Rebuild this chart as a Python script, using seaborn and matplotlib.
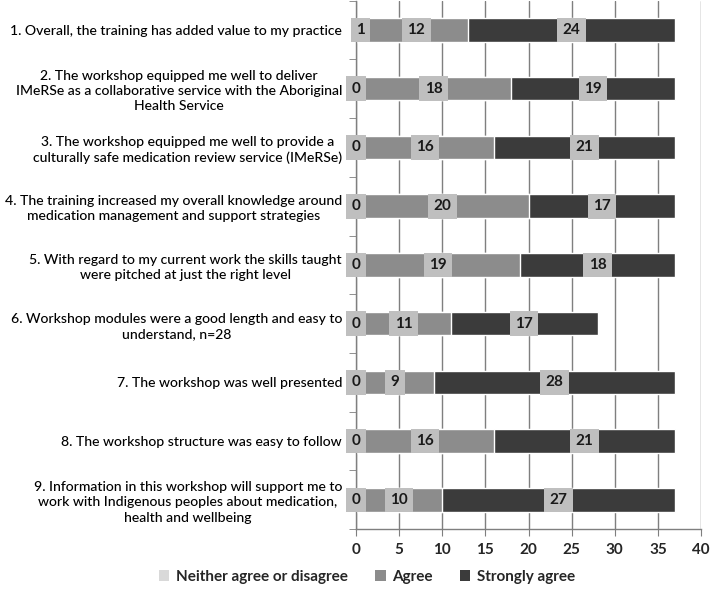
import seaborn as sns
import pandas as pd
import matplotlib.pyplot as plt
from matplotlib.patches import Patch

# survey statements (wrapped as in the original)
questions = [
    '1. Overall, the training has added value to my practice',
    '2. The workshop equipped me well to deliver\nIMeRSe as a collaborative service with the Aboriginal\nHealth Service',
    '3. The workshop equipped me well to provide a\nculturally safe medication review service (IMeRSe)',
    '4. The training increased my overall knowledge around\nmedication management and support strategies',
    '5. With regard to my current work the skills taught\nwere pitched at just the right level',
    '6. Workshop modules were a good length and easy to\nunderstand, n=28',
    '7. The workshop was well presented',
    '8. The workshop structure was easy to follow',
    '9. Information in this workshop will support me to\nwork with Indigenous peoples about medication,\nhealth and wellbeing',
]
neither = [1, 0, 0, 0, 0, 0, 0, 0, 0]
agree = [12, 18, 16, 20, 19, 11, 9, 16, 10]
strongly = [24, 19, 21, 17, 18, 17, 28, 21, 27]

series_names = ['Neither agree or disagree', 'Agree', 'Strongly agree']
colors = ['#d9d9d9', '#8c8c8c', '#3b3b3b']

df = pd.DataFrame({'question': questions, 'neither': neither,
                   'agree': agree, 'strongly': strongly})
df['cum1'] = df['neither']
df['cum2'] = df['neither'] + df['agree']
df['cum3'] = df['cum2'] + df['strongly']

sns.set_style('white')
plt.rcParams['font.family'] = ['Lato', 'DejaVu Sans']

fig = plt.figure(figsize=(7.12, 5.9), dpi=100)
ax = fig.add_axes([0.5, 0.103, 0.4846, 0.896])

# stacked bars drawn back to front
for col, c in zip(['cum3', 'cum2', 'cum1'], colors[::-1]):
    sns.barplot(data=df, x=col, y='question', color=c, width=0.4,
                orient='h', ax=ax, saturation=1)

# value labels in grey boxes at segment centres
for i, row in df.iterrows():
    starts = [0, row['cum1'], row['cum2']]
    vals = [row['neither'], row['agree'], row['strongly']]
    for s, v in zip(starts, vals):
        ax.text(s + v / 2, i, str(v), ha='center', va='center',
                fontsize=11, fontweight='bold', color='#1a1a1a',
                bbox=dict(boxstyle='square,pad=0.35', fc='#bfbfbf', ec='none'))

ax.set_xlim(0, 40)
ax.set_ylim(8.5, -0.5)
ax.set_xticks(range(0, 41, 5))
ax.set_xlabel('')
ax.set_ylabel('')
ax.grid(axis='x', color='#7f7f7f', linewidth=1)
ax.set_axisbelow(True)

for side in ['top', 'right']:
    ax.spines[side].set_visible(False)
for side in ['left', 'bottom']:
    ax.spines[side].set_color('#7f7f7f')
    ax.spines[side].set_linewidth(1)

ax.tick_params(axis='x', length=5, color='#7f7f7f', direction='out',
               labelsize=11, pad=5, bottom=True)
ax.tick_params(axis='y', which='major', length=0, pad=10, labelsize=10.1)
ax.set_yticks([i - 0.5 for i in range(10)], minor=True)
ax.tick_params(axis='y', which='minor', length=5, color='#7f7f7f',
               direction='out', left=True)
for lab in ax.get_yticklabels():
    lab.set_multialignment('center')
    lab.set_linespacing(1.32)
    lab.set_color('#000000')
    lab.set_fontweight('medium')
for lab in ax.get_xticklabels():
    lab.set_fontweight('bold')

handles = [Patch(facecolor=c, edgecolor='none') for c in colors]
fig.legend(handles, series_names, loc='center', bbox_to_anchor=(0.515, 0.022),
           ncol=3, frameon=False, handlelength=0.7,
           handleheight=0.7, handletextpad=0.4, columnspacing=1.8,
           prop={'weight': 'bold', 'size': 11})

plt.savefig('out.png', dpi=100)
